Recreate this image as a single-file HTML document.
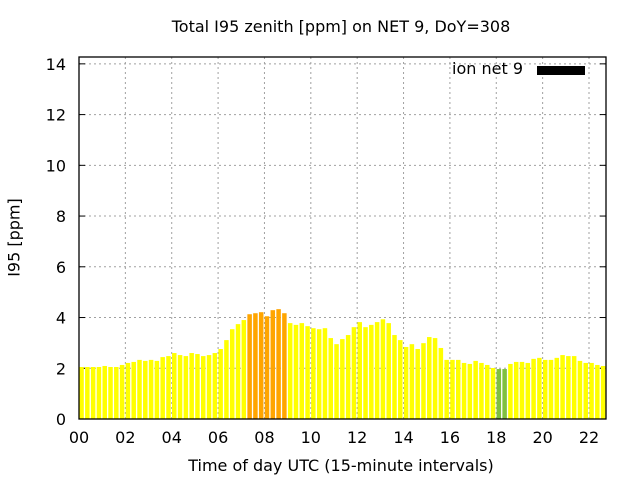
<!DOCTYPE html>
<html><head><meta charset="utf-8"><style>
body{margin:0;background:#fff;}
svg{display:block;font-family:"DejaVu Sans",sans-serif;}
</style></head><body>
<svg id="c" width="640" height="480"></svg>
<script>
const categories = Array.from({length:91},(_,i)=>i);
const values = [2.05,2.05,2.05,2.05,2.09,2.05,2.05,2.13,2.21,2.25,2.33,2.29,2.33,2.29,2.44,2.48,2.60,2.52,2.48,2.60,2.56,2.48,2.52,2.60,2.76,3.11,3.54,3.74,3.90,4.13,4.17,4.21,4.05,4.29,4.33,4.17,3.78,3.71,3.78,3.66,3.58,3.54,3.58,3.19,2.95,3.15,3.31,3.62,3.82,3.62,3.71,3.82,3.93,3.78,3.31,3.11,2.84,2.95,2.76,2.99,3.23,3.19,2.80,2.33,2.33,2.33,2.21,2.17,2.29,2.21,2.13,2.01,1.97,1.97,2.17,2.25,2.25,2.21,2.37,2.41,2.33,2.33,2.41,2.52,2.48,2.48,2.29,2.21,2.21,2.13,2.09];
const yTicks = [0,2,4,6,8,10,12,14];
const xTicks = ["00","02","04","06","08","10","12","14","16","18","20","22"];
const L=79,R=606,T=57,B=419,YMAX=14.27,HOURW=(589-79)/22;
const svg=document.getElementById('c');
const NS='http://www.w3.org/2000/svg';
function y(v){return B-(v/YMAX)*(B-T);}
function xh(h){return L+h*HOURW;}
function mk(t,a,txt){const e=document.createElementNS(NS,t);for(const k in a)e.setAttribute(k,a[k]);if(txt!==undefined)e.textContent=txt;svg.appendChild(e);return e;}
yTicks.forEach(v=>{
  if(v>0){const g=mk('line',{x1:L,x2:R,y1:y(v),y2:y(v),stroke:'#a0a0a0','stroke-dasharray':'2,3'});
  
  }
  const t=mk('text',{x:L-13,y:y(v)+6,'text-anchor':'end','font-size':'16'},String(v));
  
  
  mk('line',{x1:L,x2:L+6,y1:y(v),y2:y(v),stroke:'#000'});
  mk('line',{x1:R,x2:R-6,y1:y(v),y2:y(v),stroke:'#000'});
});
xTicks.forEach((s,i)=>{
  const x=xh(i*2);
  if(i>0){const g=mk('line',{x1:x,x2:x,y1:T,y2:B,stroke:'#a0a0a0','stroke-dasharray':'2,3'});
  
  }
  const t=mk('text',{x:x,y:B+24,'text-anchor':'middle','font-size':'16'},s);
  
  
});
const bw=(HOURW/4);
values.forEach((v,i)=>{
  const c=v<2?'#80c040':(v>4?'#ffa500':'#ffff00');
  const r=mk('rect',{x:xh(categories[i]/4)+0.3,y:y(v),width:bw-1.3,height:B-y(v),fill:c});
  
  
});
mk('rect',{x:L,y:T,width:R-L,height:B-T,fill:'none',stroke:'#000','stroke-width':1.3});
</script>
<div style="position:absolute;left:0;top:0;width:640px;height:480px;pointer-events:none;font-family:'DejaVu Sans',sans-serif;">
<div style="position:absolute;left:0;width:682px;top:17px;text-align:center;font-size:16px;">Total I95 zenith [ppm] on NET 9, DoY=308</div>
<div style="position:absolute;left:0;width:682px;top:456px;text-align:center;font-size:16px;">Time of day UTC (15-minute intervals)</div>
<div style="position:absolute;left:-46px;top:228px;width:120px;text-align:center;font-size:16px;transform:rotate(-90deg);">I95 [ppm]</div>
<div style="position:absolute;right:117px;top:59px;font-size:16px;">ion net 9</div>
<div style="position:absolute;left:537px;top:66px;width:48px;height:9px;background:#000;"></div>
</div>
</body></html>
